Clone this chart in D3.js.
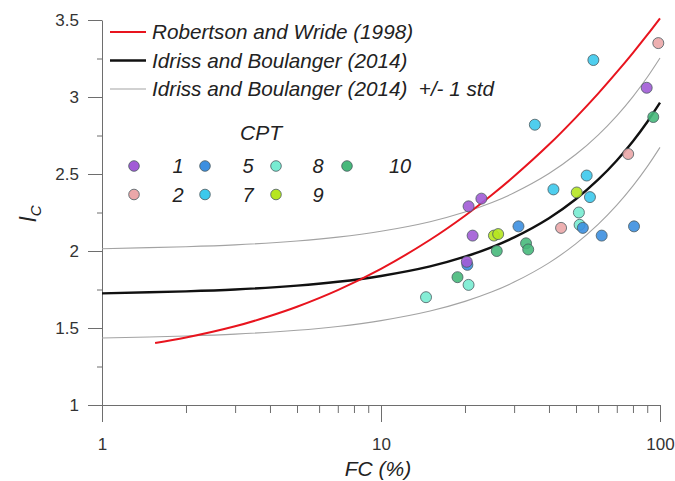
<!DOCTYPE html>
<html>
<head>
<meta charset="utf-8">
<script src="https://cdn.jsdelivr.net/npm/d3@7"></script>
<style>
  body { margin: 0; background: #fff; }
  svg { font-family: "Liberation Sans", Arial, sans-serif; }
</style>
</head>
<body>
<div id="chart"></div>
<script>
// Curves (FC %, Ic)
const rwFC = [1.55, 2, 3, 4, 5, 7, 10, 15, 20, 25, 30, 40, 50, 60, 70, 80, 90, 100];
const rwIc = [1.402, 1.438, 1.511, 1.578, 1.638, 1.746, 1.884, 2.073, 2.229, 2.365, 2.485, 2.691, 2.868, 3.022, 3.161, 3.287, 3.403, 3.511];

const ibFC = [1, 2, 3, 5, 7, 10, 15, 20, 25, 30, 40, 50, 60, 70, 80, 90, 100];
const ibIc = [1.725, 1.738, 1.750, 1.775, 1.800, 1.838, 1.900, 1.963, 2.025, 2.088, 2.213, 2.338, 2.463, 2.588, 2.713, 2.838, 2.963];
const ibUpper = [2.015, 2.028, 2.040, 2.065, 2.090, 2.128, 2.190, 2.253, 2.315, 2.378, 2.503, 2.628, 2.753, 2.878, 3.003, 3.128, 3.253];
const ibLower = [1.435, 1.448, 1.460, 1.485, 1.510, 1.548, 1.610, 1.673, 1.735, 1.798, 1.923, 2.048, 2.173, 2.298, 2.423, 2.548, 2.673];

// CPT points
const ptCPT = [2, 7, 1, 10, 7, 2, 7, 7, 9, 7, 1, 1, 8, 5, 2, 8, 5, 5, 5, 1, 9, 9, 10, 10, 10, 5, 1, 10, 8, 8];
const ptFC  = [98.6, 57.7, 89.6, 94.6, 35.6, 76.9, 54.6, 41.5, 50.3, 56.1, 22.9, 20.6, 51.2, 31.1, 44.2, 51.5, 52.9, 61.8, 80.7, 21.3, 25.4, 26.3, 33.1, 33.7, 26.0, 20.4, 20.3, 18.8, 20.6, 14.5];
const ptIc  = [3.35, 3.24, 3.06, 2.87, 2.82, 2.63, 2.49, 2.40, 2.38, 2.35, 2.34, 2.29, 2.25, 2.16, 2.15, 2.17, 2.15, 2.10, 2.16, 2.10, 2.10, 2.11, 2.05, 2.01, 2.00, 1.91, 1.93, 1.83, 1.78, 1.70];

const cptIds = [1, 2, 5, 7, 8, 9, 10];
const cptColors = ['#a15bd6', '#eba7a9', '#3c8fe0', '#3cc9ec', '#78ecd2', '#b6e620', '#47b97b'];

const yTicks = [1, 1.5, 2, 2.5, 3, 3.5];
const yMinor = [1.25, 1.75, 2.25, 2.75, 3.25];
const xTicks = [1, 10, 100];
const xMinor = [2, 3, 4, 5, 6, 7, 8, 9, 20, 30, 40, 50, 60, 70, 80, 90];

const width = 675, height = 481;
const margin = { top: 20, right: 15, bottom: 76, left: 102 };

const svg = d3.select('#chart').append('svg')
    .attr('width', width)
    .attr('height', height);

const x = d3.scaleLog().domain([1, 100]).range([margin.left, width - margin.right]);
const y = d3.scaleLinear().domain([1, 3.5]).range([height - margin.bottom, margin.top]);
const color = d3.scaleOrdinal().domain(cptIds).range(cptColors);

const axisColor = '#6e6e6e';

// x axis
const gx = svg.append('g').attr('transform', `translate(0,${y(1)})`);
gx.call(d3.axisBottom(x).tickValues(xMinor).tickSize(8).tickSizeOuter(0).tickFormat(''));
gx.append('g').call(d3.axisBottom(x).tickValues(xTicks).tickSize(17).tickSizeOuter(0).tickPadding(16).tickFormat(d3.format('d')))
    .select('.domain').remove();

// y axis
const gy = svg.append('g').attr('transform', `translate(${x(1)},0)`);
gy.call(d3.axisLeft(y).tickValues(yMinor).tickSize(5).tickSizeOuter(0).tickFormat(''));
gy.append('g').call(d3.axisLeft(y).tickValues(yTicks).tickSize(14).tickSizeOuter(0).tickPadding(9).tickFormat(d => d))
    .select('.domain').remove();

svg.selectAll('.domain, .tick line').attr('stroke', axisColor);
svg.selectAll('.tick text').attr('fill', '#333').style('font-size', '17px');

// curves
const line = d3.line().x(d => x(d[0])).y(d => y(d[1])).curve(d3.curveCatmullRom.alpha(0.5));
const zip = (a, b) => a.map((v, i) => [v, b[i]]);

const curves = [
    { pts: zip(ibFC, ibUpper), stroke: '#a3a3a3', w: 1.1 },
    { pts: zip(ibFC, ibLower), stroke: '#a3a3a3', w: 1.1 },
    { pts: zip(ibFC, ibIc), stroke: '#111', w: 2.4 },
    { pts: zip(rwFC, rwIc), stroke: '#e8141e', w: 2 }
];
svg.append('g').selectAll('path')
    .data(curves)
    .join('path')
    .attr('d', d => line(d.pts))
    .attr('fill', 'none')
    .attr('stroke', d => d.stroke)
    .attr('stroke-width', d => d.w);

// points
svg.append('g').selectAll('circle')
    .data(ptFC.map((v, i) => ({ fc: v, ic: ptIc[i], cpt: ptCPT[i] })))
    .join('circle')
    .attr('cx', d => x(d.fc))
    .attr('cy', d => y(d.ic))
    .attr('r', 5.5)
    .attr('fill', d => color(d.cpt))
    .attr('fill-opacity', 0.9)
    .attr('stroke', '#4a5a60')
    .attr('stroke-width', 0.8);

// line legend
const lineLegend = [
    { label: 'Robertson and Wride (1998)', stroke: '#e8141e', w: 2 },
    { label: 'Idriss and Boulanger (2014)', stroke: '#111', w: 2.4 },
    { label: 'Idriss and Boulanger (2014)  +/- 1 std', stroke: '#a3a3a3', w: 1.1 }
];
const lg = svg.append('g').selectAll('g')
    .data(lineLegend)
    .join('g')
    .attr('transform', (d, i) => `translate(110,${32 + i * 28.5})`);
lg.append('line')
    .attr('x1', 0).attr('x2', 36)
    .attr('stroke', d => d.stroke)
    .attr('stroke-width', d => d.w);
lg.append('text')
    .attr('x', 42)
    .attr('dy', '0.35em')
    .attr('fill', '#222')
    .style('font-size', '20.7px')
    .style('font-style', 'italic')
    .style('white-space', 'pre')
    .text(d => d.label);

// CPT legend
svg.append('text')
    .attr('x', 261).attr('y', 133)
    .attr('dy', '0.35em')
    .attr('text-anchor', 'middle')
    .attr('fill', '#222')
    .style('font-size', '21px')
    .style('font-style', 'italic')
    .text('CPT');

const dotX = [134, 205, 276, 347];
const labX = [178, 248, 318, 400];
const cg = svg.append('g').selectAll('g')
    .data(cptIds)
    .join('g')
    .attr('transform', (d, i) => `translate(0,${166 + (i % 2) * 28.5})`);
cg.append('circle')
    .attr('cx', (d, i) => dotX[Math.floor(i / 2)])
    .attr('r', 5.3)
    .attr('fill', d => color(d))
    .attr('stroke', '#4a5a60')
    .attr('stroke-width', 0.8);
cg.append('text')
    .attr('x', (d, i) => labX[Math.floor(i / 2)])
    .attr('dy', '0.35em')
    .attr('text-anchor', 'middle')
    .attr('fill', '#222')
    .style('font-size', '20px')
    .style('font-style', 'italic')
    .text(d => d);

// axis titles
svg.append('text')
    .attr('x', 378).attr('y', 476)
    .attr('text-anchor', 'middle')
    .attr('fill', '#222')
    .style('font-size', '21px')
    .style('font-style', 'italic')
    .text('FC (%)');

const yt = svg.append('text')
    .attr('transform', 'translate(36,214) rotate(-90)')
    .attr('text-anchor', 'middle')
    .attr('fill', '#222')
    .style('font-size', '23px')
    .style('font-style', 'italic');
yt.append('tspan').text('I');
yt.append('tspan').attr('dy', 5).style('font-size', '15px').text('C');
</script>
</body>
</html>
